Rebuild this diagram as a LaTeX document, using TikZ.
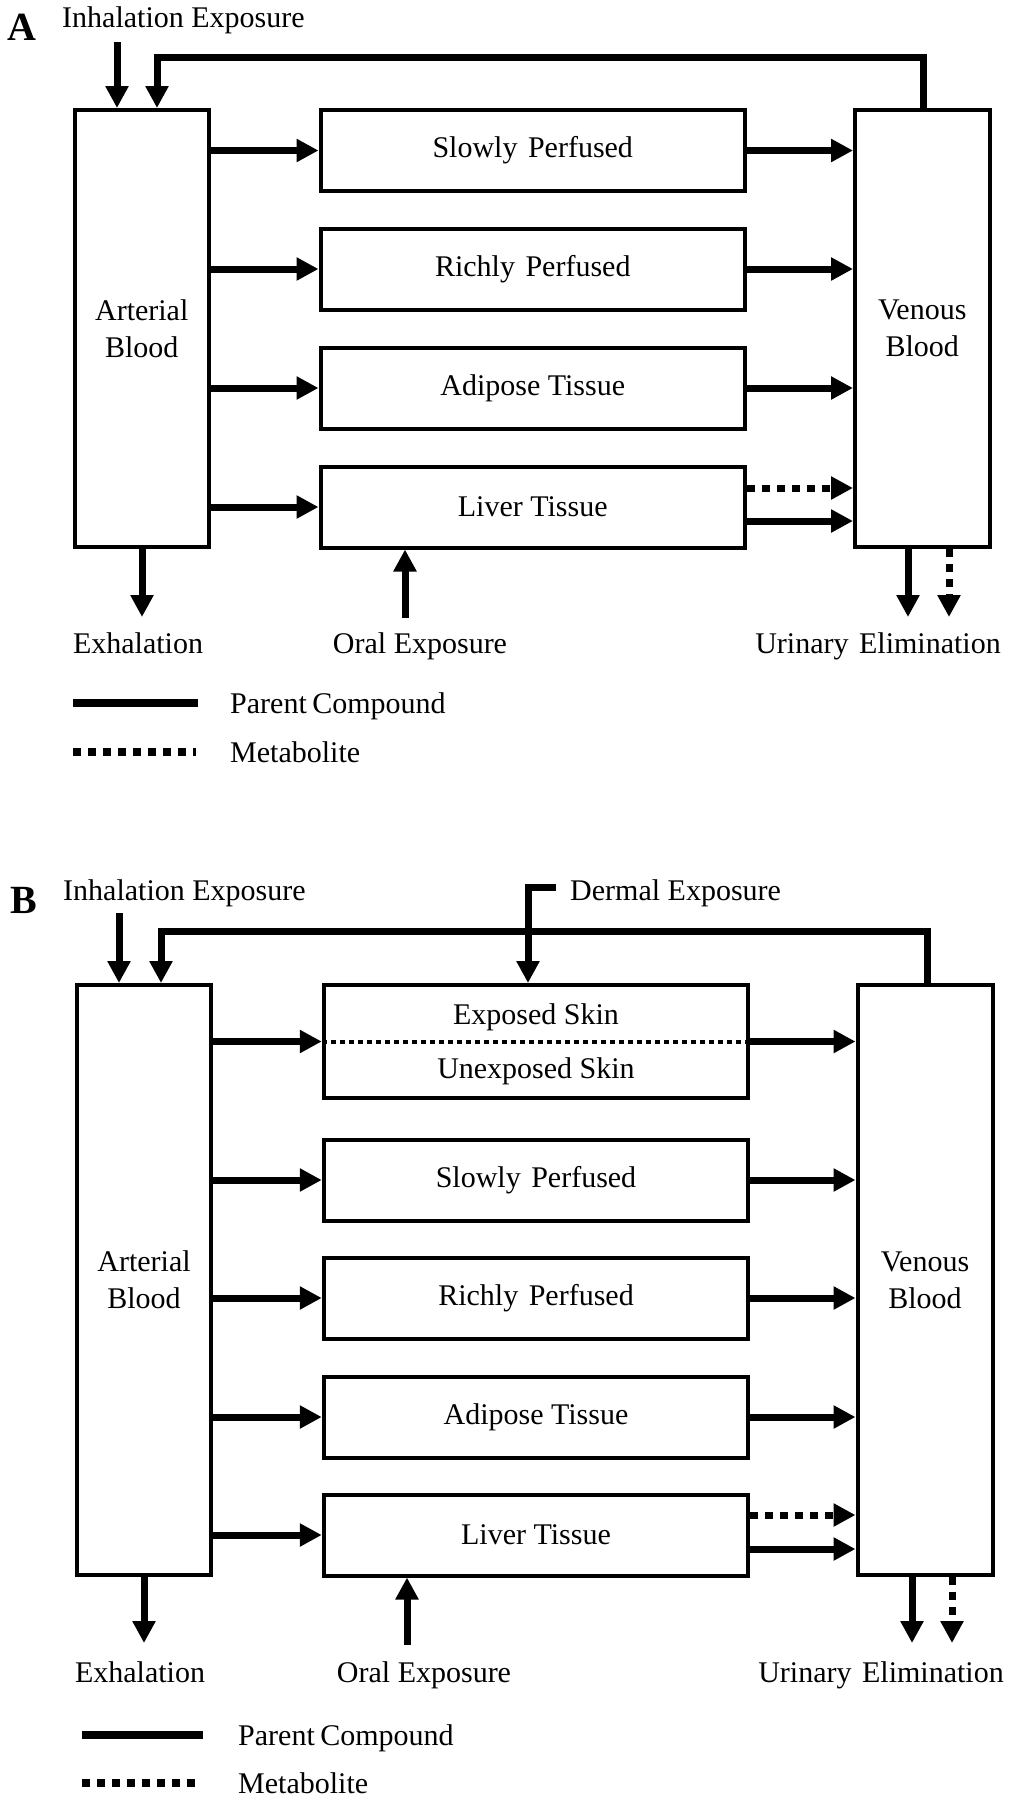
\documentclass[tikz,border=0pt]{standalone}
\usepackage{fontspec}
\setmainfont{Liberation Serif}
\usetikzlibrary{arrows.meta}
\newcommand\figfont{\fontsize{30pt}{37pt}\selectfont}
\newcommand\titfont{\fontsize{40pt}{44pt}\selectfont\bfseries}
\tikzset{
  box/.style={draw, line width=4pt, inner sep=0pt, align=center, font=\figfont},
  arr/.style={line width=7pt, line join=miter, -{Triangle[length=22pt,width=22pt]}},
  darr/.style={arr, dash pattern=on 8pt off 7pt},
  lbl/.style={inner sep=0pt, font=\figfont},
  tit/.style={inner sep=0pt, font=\titfont},
  legsolid/.style={line width=8pt},
  legdot/.style={line width=8pt, dash pattern=on 8pt off 7pt},
  skinline/.style={line width=4pt, dash pattern=on 5pt off 4pt},
}
\begin{document}
\begin{tikzpicture}[x=1pt,y=-1pt]
\useasboundingbox[fill=white] (0,0) rectangle (1011,1800);

% ================= Panel A =================
\node[tit, anchor=base west] (titA) at (7,40) {A};
\node[lbl, anchor=base west] (inhA) at (62,27) {Inhalation Exposure};

\node[box, minimum width=133.5pt, minimum height=437pt] (artA) at (141.75,328.5) {Arterial\\Blood};
\node[box, minimum width=134.5pt, minimum height=437pt] (venA) at (922.25,328.5) {Venous\\Blood};
\node[box, minimum width=424.5pt, minimum height=81pt] (slowA) at (532.75,150.5) {Slowly\hspace{3pt} Perfused};
\node[box, minimum width=424.5pt, minimum height=81pt] (richA) at (532.75,269) {Richly\hspace{3pt} Perfused};
\node[box, minimum width=424.5pt, minimum height=81pt] (adiA) at (532.75,388) {Adipose Tissue};
\node[box, minimum width=424.5pt, minimum height=81pt] (livA) at (532.75,507) {Liver Tissue};

\node[lbl, anchor=base] (exhA) at (138,653) {Exhalation};
\node[lbl, anchor=base] (oraA) at (420,653) {Oral Exposure};
\node[lbl, anchor=base] (uriA) at (878,653) {Urinary\hspace{3pt} Elimination};

\coordinate (inhAs) at (117,42);
\coordinate (fbA1) at (923,57);
\coordinate (fbA2) at (157,57);
\coordinate (exhAe) at (142,617);
\coordinate (oraAs) at (405,618);
\coordinate (uriA1) at (908,617);
\coordinate (uriA2) at (949,617);
\coordinate (livAd) at ([yshift=19pt]livA.east);
\coordinate (livAs) at ([yshift=-14pt]livA.east);

\draw[arr] (inhAs) -- (inhAs |- artA.north);
\draw[arr] (fbA1 |- venA.north) -- (fbA1) -- (fbA2) -- (fbA2 |- artA.north);

\foreach \b in {slowA,richA,adiA,livA}{
  \draw[arr] (artA.east |- \b.west) -- (\b.west);
}
\foreach \b in {slowA,richA,adiA}{
  \draw[arr] (\b.east) -- (venA.west |- \b.east);
}
\draw[darr] (livAd) -- (venA.west |- livAd);
\draw[arr] (livAs) -- (venA.west |- livAs);

\draw[arr] (exhAe |- artA.south) -- (exhAe);
\draw[arr] (oraAs) -- (oraAs |- livA.south);
\draw[arr] (uriA1 |- venA.south) -- (uriA1);
\draw[darr] (uriA2 |- venA.south) -- (uriA2);

\coordinate (legA1) at (73,703);
\coordinate (legA2) at (198,703);
\coordinate (legA3) at (73,752);
\coordinate (legA4) at (196,752);
\draw[legsolid] (legA1) -- (legA2);
\draw[legdot] (legA3) -- (legA4);
\node[lbl, anchor=base west] (parA) at (230,713) {Parent\hspace{-2pt} Compound};
\node[lbl, anchor=base west] (metA) at (230,762) {Metabolite};

% ================= Panel B =================
\node[tit, anchor=base west] (titB) at (10,913) {B};
\node[lbl, anchor=base west] (inhB) at (63,900) {Inhalation Exposure};
\node[lbl, anchor=base west] (derB) at (570,900) {Dermal Exposure};

\node[box, minimum width=134pt, minimum height=590pt] (artB) at (144,1280) {Arterial\\Blood};
\node[box, minimum width=135pt, minimum height=590pt] (venB) at (925,1280) {Venous\\Blood};
\node[box, minimum width=424.5pt, minimum height=113pt] (skinB) at (536,1041.5) {};
\node[lbl] (expB) at (536,1017) {Exposed Skin};
\node[lbl] (unexB) at (536,1071) {Unexposed Skin};
\node[box, minimum width=424.5pt, minimum height=81pt] (slowB) at (536,1180) {Slowly\hspace{3pt} Perfused};
\node[box, minimum width=424.5pt, minimum height=81pt] (richB) at (536,1298) {Richly\hspace{3pt} Perfused};
\node[box, minimum width=424.5pt, minimum height=81pt] (adiB) at (536,1417) {Adipose Tissue};
\node[box, minimum width=424.5pt, minimum height=81pt] (livB) at (536,1535) {Liver Tissue};

\node[lbl, anchor=base] (exhB) at (140,1682) {Exhalation};
\node[lbl, anchor=base] (oraB) at (424,1682) {Oral Exposure};
\node[lbl, anchor=base] (uriB) at (881,1682) {Urinary\hspace{3pt} Elimination};

\coordinate (inhBs) at (119,913);
\coordinate (fbB1) at (927,931);
\coordinate (fbB2) at (161,931);
\coordinate (derB1) at (556,887);
\coordinate (derB2) at (528,887);
\coordinate (exhBe) at (144,1643);
\coordinate (oraBs) at (407,1645);
\coordinate (uriB1) at (912,1643);
\coordinate (uriB2) at (952,1643);
\coordinate (livBd) at ([yshift=20pt]livB.east);
\coordinate (livBs) at ([yshift=-14pt]livB.east);

\draw[arr] (inhBs) -- (inhBs |- artB.north);
\draw[arr] (fbB1 |- venB.north) -- (fbB1) -- (fbB2) -- (fbB2 |- artB.north);
\draw[arr] (derB1) -- (derB2) -- (derB2 |- skinB.north);

\draw[skinline] (skinB.west) -- (skinB.east);
\foreach \b in {skinB,slowB,richB,adiB,livB}{
  \draw[arr] (artB.east |- \b.west) -- (\b.west);
}
\foreach \b in {skinB,slowB,richB,adiB}{
  \draw[arr] (\b.east) -- (venB.west |- \b.east);
}
\draw[darr] (livBd) -- (venB.west |- livBd);
\draw[arr] (livBs) -- (venB.west |- livBs);

\draw[arr] (exhBe |- artB.south) -- (exhBe);
\draw[arr] (oraBs) -- (oraBs |- livB.south);
\draw[arr] (uriB1 |- venB.south) -- (uriB1);
\draw[darr] (uriB2 |- venB.south) -- (uriB2);

\coordinate (legB1) at (82,1735);
\coordinate (legB2) at (203,1735);
\coordinate (legB3) at (82,1783);
\coordinate (legB4) at (199,1783);
\draw[legsolid] (legB1) -- (legB2);
\draw[legdot] (legB3) -- (legB4);
\node[lbl, anchor=base west] (parB) at (238,1745) {Parent\hspace{-2pt} Compound};
\node[lbl, anchor=base west] (metB) at (238,1793) {Metabolite};
\end{tikzpicture}
\end{document}
